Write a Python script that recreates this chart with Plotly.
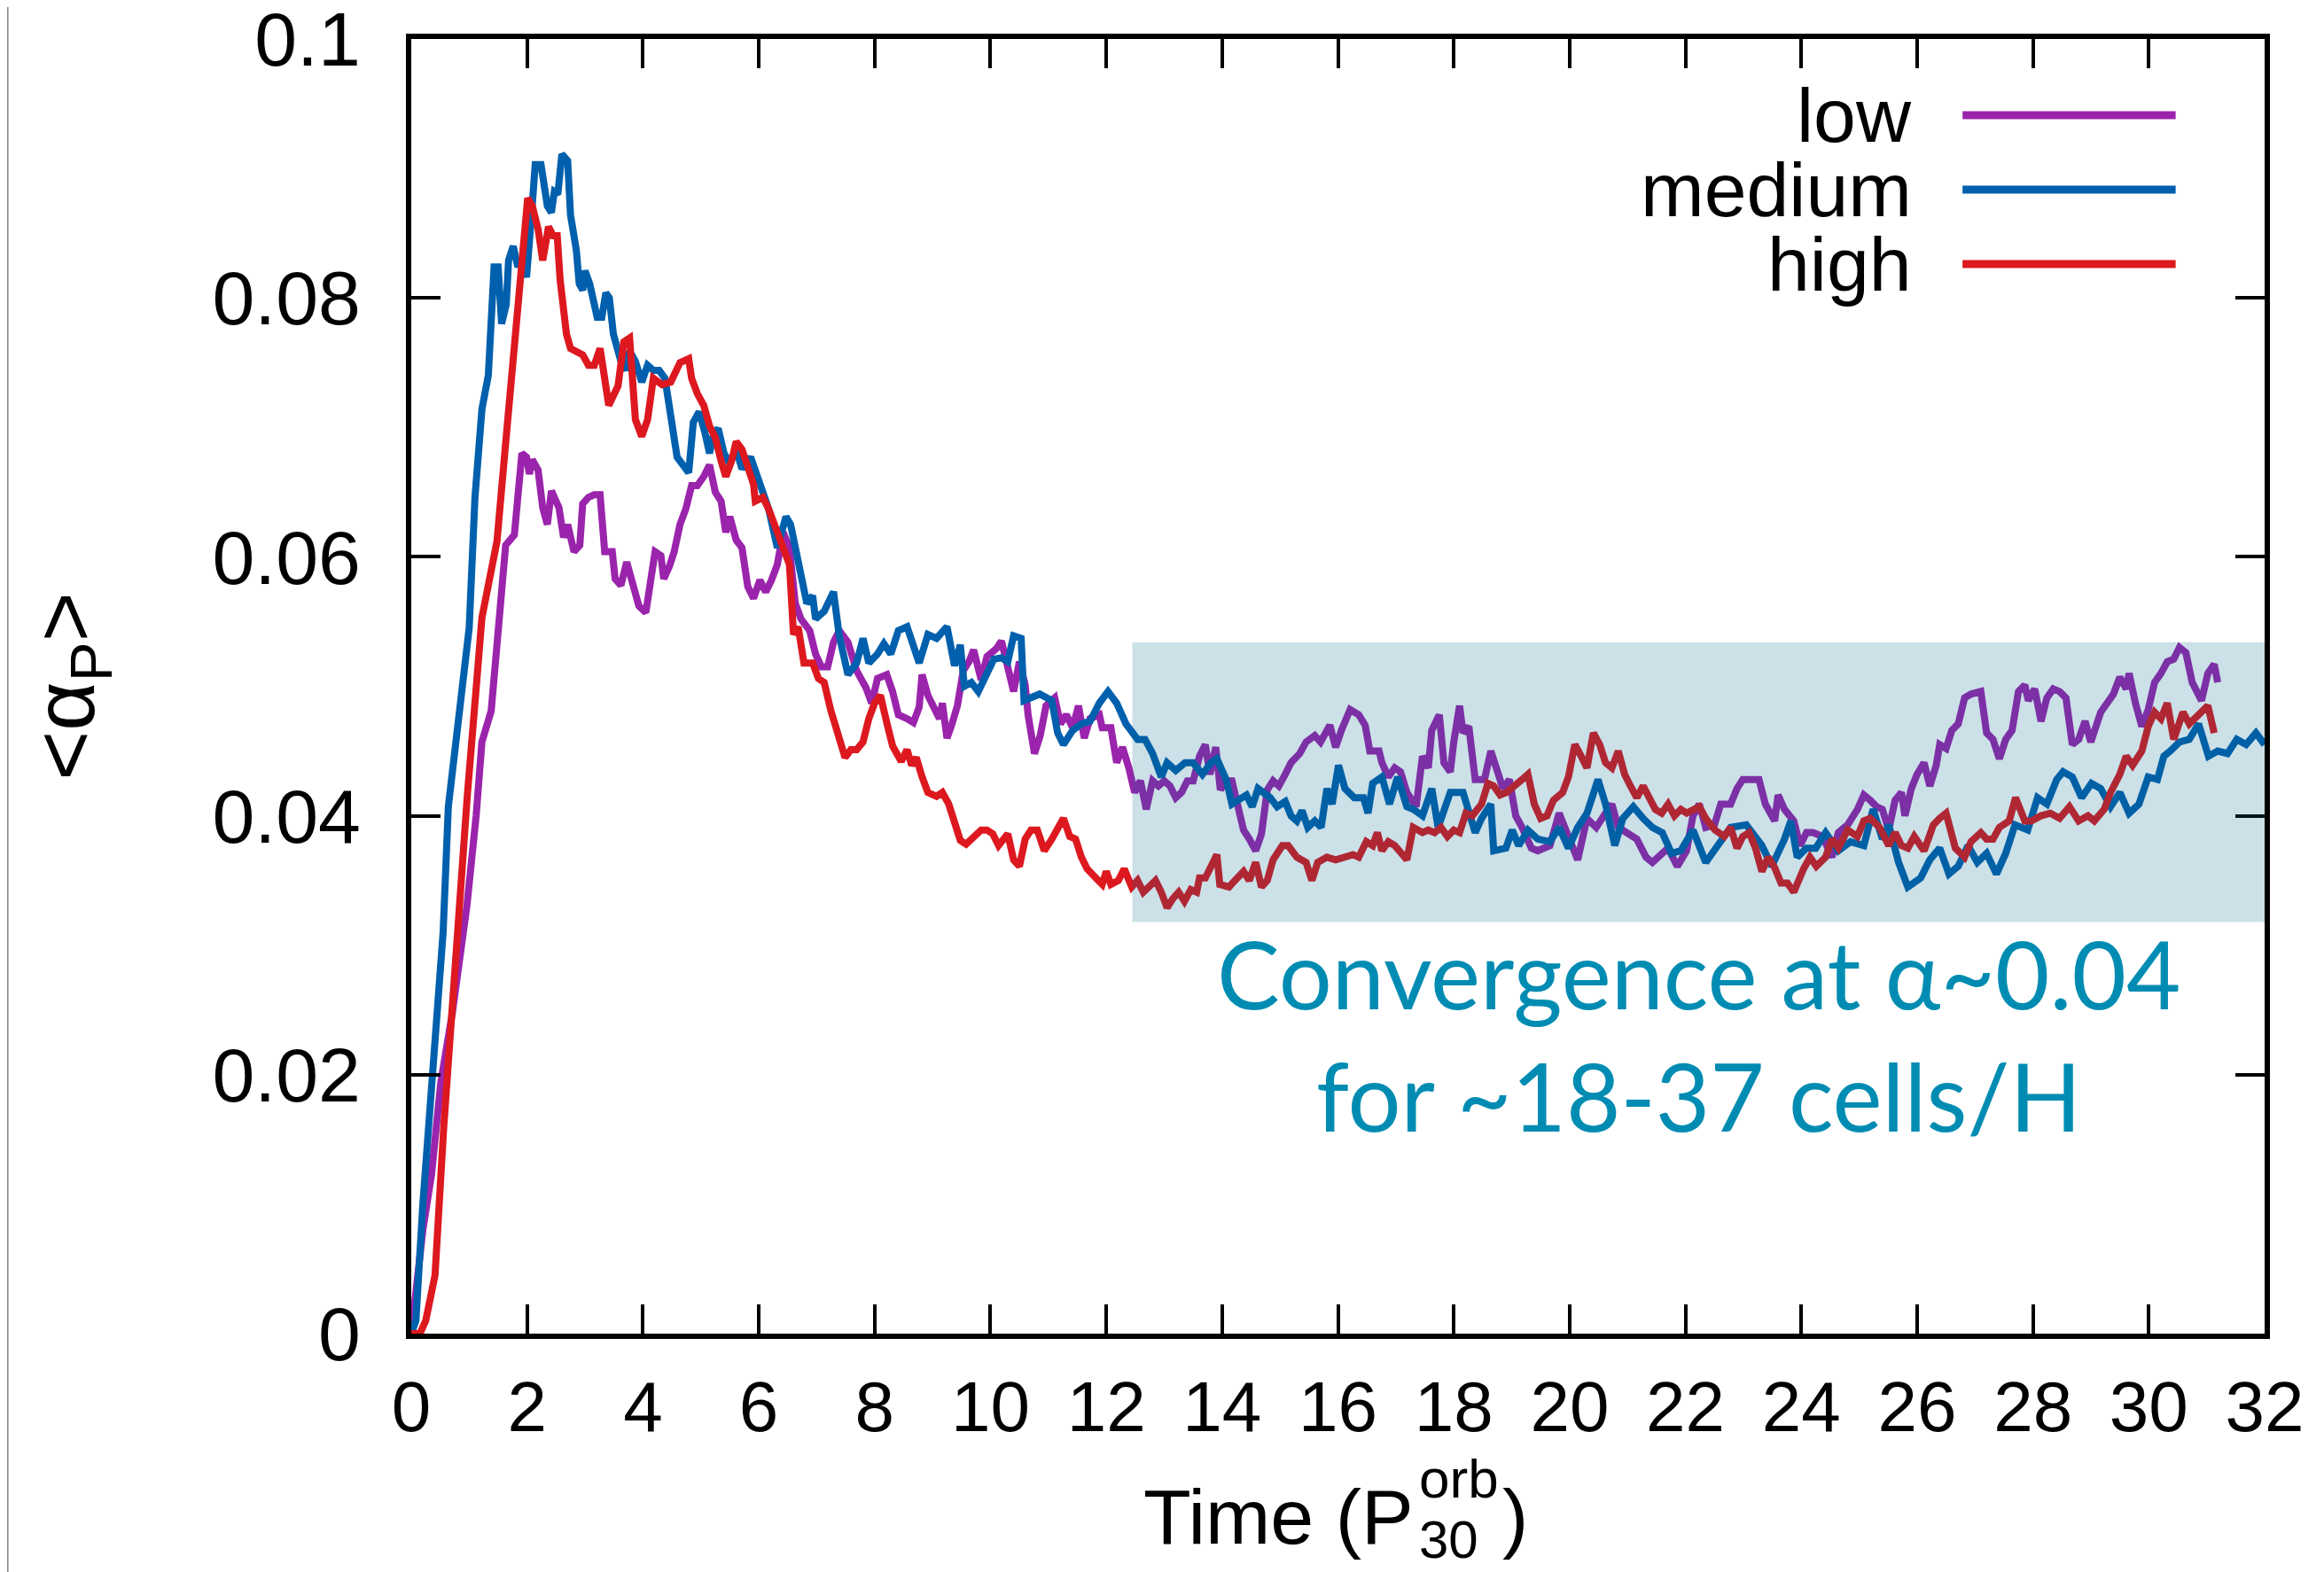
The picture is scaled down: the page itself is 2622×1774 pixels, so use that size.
import plotly.graph_objects as go

# values
t_low = [0.00, 0.10, 0.20, 0.35, 0.51, 0.71, 0.85, 0.96, 1.12, 1.22, 1.38, 1.53, 1.63, 1.78, 1.83, 1.91, 1.99,
         2.04, 2.09, 2.19, 2.27, 2.35, 2.42, 2.55, 2.63, 2.70, 2.81, 2.91, 2.96, 3.06, 3.16, 3.26, 3.34, 3.47,
         3.52, 3.62, 3.72, 3.82, 3.93, 4.05, 4.13, 4.21, 4.31, 4.36, 4.46, 4.54, 4.64, 4.74, 4.84, 4.94, 5.05,
         5.15, 5.25, 5.35, 5.43, 5.50, 5.61, 5.71, 5.81, 5.91, 6.02, 6.12, 6.22, 6.32, 6.42, 6.53, 6.63, 6.73,
         6.88, 6.98, 7.08, 7.19, 7.29, 7.39, 7.54, 7.69, 7.85, 7.95, 8.05, 8.21, 8.31, 8.41, 8.56, 8.67, 8.77,
         8.82, 8.92, 9.02, 9.12, 9.17, 9.25, 9.33, 9.43, 9.53, 9.63, 9.71, 9.79, 9.84, 9.94, 10.10, 10.19,
         10.30, 10.40, 10.50, 10.60, 10.65, 10.76, 10.86, 10.96, 11.11, 11.21, 11.31, 11.42, 11.52, 11.62,
         11.72, 11.88, 11.93, 12.08, 12.18, 12.28, 12.39, 12.49, 12.59, 12.69, 12.80, 12.90, 13.00, 13.10,
         13.20, 13.30, 13.40, 13.50, 13.61, 13.71, 13.79, 13.89, 13.97, 14.07, 14.17, 14.27, 14.37, 14.47,
         14.58, 14.68, 14.78, 14.88, 14.98, 15.09, 15.19, 15.34, 15.45, 15.60, 15.70, 15.86, 15.96, 16.06,
         16.21, 16.36, 16.47, 16.55, 16.71, 16.76, 16.87, 16.98, 17.08, 17.19, 17.35, 17.46, 17.56, 17.62,
         17.75, 17.83, 17.94, 18.00, 18.10, 18.16, 18.26, 18.37, 18.53, 18.64, 18.75, 18.85, 18.96, 19.07,
         19.18, 19.34, 19.45, 19.66, 19.82, 19.98, 20.14, 20.30, 20.46, 20.62, 20.73, 20.84, 21.00, 21.16,
         21.32, 21.43, 21.60, 21.70, 21.86, 22.02, 22.13, 22.24, 22.35, 22.50, 22.61, 22.78, 22.89, 22.99,
         23.10, 23.27, 23.38, 23.54, 23.60, 23.71, 23.87, 23.98, 24.09, 24.20, 24.37, 24.53, 24.64, 24.80,
         24.97, 25.08, 25.19, 25.30, 25.40, 25.51, 25.62, 25.73, 25.79, 25.90, 26.00, 26.12, 26.22, 26.33,
         26.39, 26.50, 26.60, 26.71, 26.82, 26.93, 27.10, 27.20, 27.31, 27.42, 27.53, 27.64, 27.75, 27.86,
         27.92, 28.03, 28.14, 28.24, 28.35, 28.46, 28.57, 28.68, 28.79, 28.90, 29.00, 29.17, 29.39, 29.50,
         29.61, 29.66, 29.77, 29.88, 29.99, 30.10, 30.21, 30.32, 30.43, 30.53, 30.64, 30.75, 30.91, 31.02,
         31.13, 31.19]
alpha_low = [0.0000, 0.0040, 0.0080, 0.0123, 0.0194, 0.0248, 0.0290, 0.0330, 0.0400, 0.0457, 0.0481, 0.0553,
             0.0609, 0.0617, 0.0646, 0.0680, 0.0677, 0.0664, 0.0675, 0.0667, 0.0638, 0.0625, 0.0651, 0.0638,
             0.0615, 0.0625, 0.0604, 0.0609, 0.0641, 0.0646, 0.0648, 0.0648, 0.0604, 0.0604, 0.0583, 0.0578,
             0.0596, 0.0578, 0.0562, 0.0557, 0.0578, 0.0604, 0.0601, 0.0583, 0.0593, 0.0604, 0.0625, 0.0637,
             0.0655, 0.0655, 0.0662, 0.0671, 0.0650, 0.0643, 0.0619, 0.0631, 0.0613, 0.0607, 0.0577, 0.0568,
             0.0582, 0.0573, 0.0582, 0.0594, 0.0619, 0.0607, 0.0564, 0.0552, 0.0543, 0.0525, 0.0515, 0.0515,
             0.0534, 0.0543, 0.0534, 0.0512, 0.0499, 0.0487, 0.0506, 0.0509, 0.0496, 0.0478, 0.0475, 0.0472,
             0.0484, 0.0509, 0.0493, 0.0483, 0.0475, 0.0487, 0.0460, 0.0470, 0.0485, 0.0512, 0.0519, 0.0528,
             0.0512, 0.0505, 0.0523, 0.0529, 0.0535, 0.0512, 0.0496, 0.0519, 0.0501, 0.0478, 0.0448, 0.0462,
             0.0485, 0.0491, 0.0471, 0.0478, 0.0468, 0.0485, 0.0460, 0.0475, 0.0478, 0.0468, 0.0468, 0.0441,
             0.0453, 0.0437, 0.0418, 0.0427, 0.0405, 0.0427, 0.0423, 0.0427, 0.0423, 0.0414, 0.0418, 0.0427,
             0.0427, 0.0446, 0.0455, 0.0432, 0.0453, 0.0420, 0.0427, 0.0427, 0.0407, 0.0389, 0.0382, 0.0373,
             0.0386, 0.0420, 0.0427, 0.0423, 0.0432, 0.0441, 0.0448, 0.0457, 0.0462, 0.0457, 0.0470, 0.0453,
             0.0466, 0.0482, 0.0478, 0.0470, 0.0450, 0.0450, 0.0441, 0.0430, 0.0437, 0.0434, 0.0418, 0.0407,
             0.0446, 0.0437, 0.0466, 0.0478, 0.0441, 0.0434, 0.0457, 0.0485, 0.0464, 0.0469, 0.0428, 0.0428,
             0.0450, 0.0434, 0.0421, 0.0428, 0.0400, 0.0391, 0.0375, 0.0373, 0.0377, 0.0402, 0.0384, 0.0366,
             0.0398, 0.0391, 0.0402, 0.0409, 0.0391, 0.0387, 0.0382, 0.0368, 0.0364, 0.0371, 0.0375, 0.0361,
             0.0373, 0.0400, 0.0409, 0.0391, 0.0393, 0.0409, 0.0409, 0.0421, 0.0428, 0.0428, 0.0428, 0.0409,
             0.0396, 0.0416, 0.0405, 0.0396, 0.0377, 0.0387, 0.0387, 0.0384, 0.0368, 0.0387, 0.0393, 0.0405,
             0.0416, 0.0412, 0.0407, 0.0405, 0.0389, 0.0412, 0.0418, 0.0400, 0.0421, 0.0432, 0.0441, 0.0423,
             0.0439, 0.0455, 0.0452, 0.0466, 0.0471, 0.0491, 0.0494, 0.0496, 0.0464, 0.0459, 0.0444, 0.0459,
             0.0466, 0.0496, 0.0501, 0.0489, 0.0498, 0.0473, 0.0491, 0.0498, 0.0496, 0.0491, 0.0455, 0.0459,
             0.0473, 0.0457, 0.0480, 0.0494, 0.0507, 0.0498, 0.0510, 0.0487, 0.0469, 0.0482, 0.0503, 0.0510,
             0.0519, 0.0521, 0.0530, 0.0526, 0.0503, 0.0489, 0.0510, 0.0517, 0.0503]

t_medium = [0.00, 0.08, 0.20, 0.35, 0.45, 0.55, 0.64, 0.80, 1.00, 1.10, 1.22, 1.33, 1.43, 1.50, 1.56, 1.64,
            1.68, 1.76, 1.84, 1.92, 1.99, 2.07, 2.14, 2.24, 2.35, 2.42, 2.47, 2.53, 2.60, 2.70, 2.75, 2.85,
            2.90, 2.96, 3.00, 3.08, 3.21, 3.29, 3.36, 3.42, 3.49, 3.62, 3.70, 3.77, 3.87, 3.98, 4.08, 4.18,
            4.28, 4.38, 4.49, 4.59, 4.69, 4.79, 4.87, 4.97, 5.07, 5.15, 5.22, 5.30, 5.40, 5.50, 5.61, 5.71,
            5.86, 6.02, 6.17, 6.32, 6.42, 6.47, 6.55, 6.63, 6.73, 6.83, 6.93, 6.98, 7.13, 7.29, 7.39, 7.54,
            7.69, 7.80, 7.90, 8.05, 8.16, 8.28, 8.41, 8.56, 8.77, 8.92, 9.07, 9.25, 9.38, 9.48, 9.55, 9.67,
            9.79, 9.94, 10.06, 10.19, 10.30, 10.40, 10.53, 10.58, 10.72, 10.85, 11.06, 11.16, 11.26, 11.42,
            11.57, 11.72, 11.88, 12.03, 12.18, 12.34, 12.54, 12.67, 12.80, 12.95, 13.05, 13.20, 13.36, 13.50,
            13.66, 13.81, 13.91, 14.07, 14.17, 14.32, 14.42, 14.52, 14.62, 14.83, 14.95, 15.09, 15.19, 15.29,
            15.38, 15.48, 15.60, 15.71, 15.81, 15.90, 16.01, 16.12, 16.28, 16.44, 16.52, 16.60, 16.76, 16.89,
            17.03, 17.19, 17.30, 17.46, 17.62, 17.73, 17.94, 18.16, 18.26, 18.37, 18.48, 18.64, 18.69, 18.90,
            19.01, 19.12, 19.28, 19.45, 19.66, 19.82, 19.98, 20.14, 20.30, 20.49, 20.62, 20.78, 20.92, 21.10,
            21.27, 21.43, 21.60, 21.76, 21.92, 22.13, 22.35, 22.57, 22.78, 23.05, 23.32, 23.49, 23.60, 23.71,
            23.82, 23.93, 24.09, 24.25, 24.42, 24.64, 24.85, 25.08, 25.24, 25.40, 25.51, 25.68, 25.84, 26.06,
            26.22, 26.39, 26.55, 26.71, 26.88, 27.04, 27.20, 27.37, 27.53, 27.69, 27.91, 28.08, 28.24, 28.41,
            28.52, 28.68, 28.84, 29.01, 29.17, 29.34, 29.50, 29.66, 29.83, 29.99, 30.15, 30.26, 30.37, 30.53,
            30.70, 30.86, 31.03, 31.19, 31.36, 31.52, 31.68, 31.85, 32.00]
alpha_medium = [0.0000, 0.0010, 0.0100, 0.0194, 0.0248, 0.0310, 0.0407, 0.0474, 0.0545, 0.0646, 0.0714, 0.0740,
                0.0824, 0.0824, 0.0780, 0.0795, 0.0829, 0.0840, 0.0824, 0.0830, 0.0816, 0.0860, 0.0903, 0.0903,
                0.0871, 0.0866, 0.0882, 0.0880, 0.0911, 0.0906, 0.0864, 0.0837, 0.0811, 0.0806, 0.0821, 0.0811,
                0.0785, 0.0785, 0.0804, 0.0800, 0.0772, 0.0751, 0.0744, 0.0759, 0.0751, 0.0735, 0.0748, 0.0744,
                0.0744, 0.0738, 0.0710, 0.0677, 0.0671, 0.0665, 0.0704, 0.0712, 0.0696, 0.0680, 0.0695, 0.0699,
                0.0680, 0.0672, 0.0683, 0.0668, 0.0677, 0.0656, 0.0637, 0.0607, 0.0625, 0.0631, 0.0625, 0.0607,
                0.0582, 0.0564, 0.0570, 0.0552, 0.0558, 0.0573, 0.0539, 0.0509, 0.0518, 0.0537, 0.0518, 0.0525,
                0.0533, 0.0525, 0.0543, 0.0546, 0.0518, 0.0540, 0.0537, 0.0546, 0.0516, 0.0532, 0.0500, 0.0503,
                0.0496, 0.0510, 0.0521, 0.0522, 0.0519, 0.0539, 0.0537, 0.0489, 0.0492, 0.0494, 0.0489, 0.0464,
                0.0455, 0.0466, 0.0471, 0.0473, 0.0487, 0.0496, 0.0487, 0.0471, 0.0459, 0.0459, 0.0448, 0.0430,
                0.0441, 0.0435, 0.0441, 0.0441, 0.0432, 0.0441, 0.0444, 0.0428, 0.0409, 0.0414, 0.0416, 0.0407,
                0.0421, 0.0414, 0.0407, 0.0411, 0.0400, 0.0396, 0.0404, 0.0391, 0.0396, 0.0391, 0.0421, 0.0409,
                0.0439, 0.0421, 0.0414, 0.0414, 0.0402, 0.0425, 0.0430, 0.0409, 0.0430, 0.0407, 0.0405, 0.0400,
                0.0421, 0.0391, 0.0418, 0.0418, 0.0405, 0.0387, 0.0398, 0.0409, 0.0373, 0.0375, 0.0389, 0.0377,
                0.0389, 0.0382, 0.0380, 0.0391, 0.0375, 0.0391, 0.0402, 0.0428, 0.0409, 0.0377, 0.0398, 0.0407,
                0.0398, 0.0391, 0.0387, 0.0371, 0.0373, 0.0389, 0.0364, 0.0377, 0.0391, 0.0393, 0.0377, 0.0361,
                0.0371, 0.0382, 0.0396, 0.0368, 0.0375, 0.0375, 0.0387, 0.0373, 0.0380, 0.0377, 0.0405, 0.0382,
                0.0393, 0.0364, 0.0345, 0.0352, 0.0366, 0.0375, 0.0355, 0.0361, 0.0377, 0.0364, 0.0371, 0.0355,
                0.0371, 0.0393, 0.0389, 0.0414, 0.0409, 0.0428, 0.0434, 0.0430, 0.0414, 0.0425, 0.0421, 0.0407,
                0.0418, 0.0402, 0.0409, 0.0430, 0.0428, 0.0446, 0.0450, 0.0457, 0.0459, 0.0471, 0.0446, 0.0450,
                0.0448, 0.0459, 0.0455, 0.0464, 0.0455]

t_high = [0.00, 0.15, 0.25, 0.41, 0.56, 0.71, 0.87, 0.97, 1.07, 1.22, 1.33, 1.48, 1.63, 1.78, 1.94, 2.01, 2.09,
          2.19, 2.27, 2.37, 2.45, 2.52, 2.57, 2.68, 2.75, 2.85, 2.96, 3.06, 3.16, 3.26, 3.36, 3.41, 3.57, 3.67,
          3.77, 3.87, 3.98, 4.08, 4.18, 4.33, 4.48, 4.64, 4.79, 4.84, 4.94, 5.05, 5.15, 5.25, 5.35, 5.43, 5.53,
          5.61, 5.71, 5.81, 5.91, 5.94, 6.07, 6.17, 6.27, 6.37, 6.45, 6.53, 6.60, 6.68, 6.78, 6.93, 7.03, 7.13,
          7.24, 7.39, 7.49, 7.59, 7.69, 7.80, 7.90, 8.00, 8.10, 8.21, 8.31, 8.46, 8.56, 8.64, 8.72, 8.82, 8.92,
          9.07, 9.17, 9.28, 9.38, 9.48, 9.58, 9.74, 9.84, 9.94, 10.04, 10.14, 10.30, 10.40, 10.50, 10.60, 10.70,
          10.81, 10.93, 11.06, 11.16, 11.26, 11.37, 11.47, 11.57, 11.67, 11.82, 11.93, 12.00, 12.08, 12.21,
          12.31, 12.44, 12.54, 12.64, 12.74, 12.85, 12.95, 13.05, 13.15, 13.25, 13.35, 13.46, 13.56, 13.61,
          13.71, 13.81, 13.91, 13.96, 14.12, 14.22, 14.37, 14.47, 14.58, 14.68, 14.78, 14.88, 15.04, 15.14,
          15.29, 15.45, 15.55, 15.65, 15.81, 15.96, 16.11, 16.26, 16.36, 16.49, 16.60, 16.68, 16.76, 16.87,
          16.98, 17.08, 17.19, 17.30, 17.46, 17.56, 17.67, 17.78, 17.89, 18.00, 18.10, 18.21, 18.32, 18.48,
          18.59, 18.69, 18.80, 18.91, 19.07, 19.18, 19.28, 19.39, 19.50, 19.61, 19.72, 19.88, 19.98, 20.09,
          20.20, 20.30, 20.41, 20.52, 20.62, 20.73, 20.84, 20.95, 21.05, 21.16, 21.27, 21.38, 21.48, 21.59,
          21.70, 21.81, 21.92, 22.02, 22.13, 22.24, 22.35, 22.51, 22.67, 22.78, 22.89, 22.99, 23.10, 23.21,
          23.32, 23.43, 23.54, 23.65, 23.76, 23.87, 24.04, 24.15, 24.26, 24.42, 24.53, 24.64, 24.80, 24.97,
          25.08, 25.19, 25.35, 25.51, 25.62, 25.73, 25.84, 25.95, 26.12, 26.28, 26.39, 26.50, 26.66, 26.82,
          26.93, 27.10, 27.20, 27.31, 27.42, 27.59, 27.70, 27.86, 27.97, 28.14, 28.30, 28.46, 28.63, 28.79,
          28.95, 29.06, 29.23, 29.34, 29.50, 29.61, 29.72, 29.88, 29.99, 30.10, 30.21, 30.32, 30.43, 30.59,
          30.70, 30.86, 30.97, 31.02, 31.13]
alpha_high = [0.0000, 0.0000, 0.0010, 0.0045, 0.0159, 0.0260, 0.0352, 0.0417, 0.0471, 0.0553, 0.0578, 0.0612,
              0.0688, 0.0761, 0.0840, 0.0877, 0.0871, 0.0853, 0.0829, 0.0855, 0.0848, 0.0848, 0.0814, 0.0772,
              0.0761, 0.0759, 0.0756, 0.0748, 0.0748, 0.0761, 0.0727, 0.0717, 0.0732, 0.0766, 0.0769, 0.0706,
              0.0693, 0.0706, 0.0738, 0.0733, 0.0735, 0.0750, 0.0753, 0.0738, 0.0726, 0.0717, 0.0701, 0.0692,
              0.0674, 0.0662, 0.0674, 0.0689, 0.0683, 0.0668, 0.0656, 0.0643, 0.0646, 0.0637, 0.0625, 0.0613,
              0.0600, 0.0594, 0.0540, 0.0546, 0.0518, 0.0518, 0.0506, 0.0503, 0.0482, 0.0460, 0.0445, 0.0451,
              0.0451, 0.0457, 0.0475, 0.0487, 0.0493, 0.0472, 0.0454, 0.0442, 0.0451, 0.0439, 0.0445, 0.0430,
              0.0418, 0.0415, 0.0418, 0.0409, 0.0394, 0.0381, 0.0378, 0.0384, 0.0389, 0.0389, 0.0386, 0.0377,
              0.0386, 0.0366, 0.0361, 0.0382, 0.0389, 0.0389, 0.0373, 0.0382, 0.0391, 0.0398, 0.0384, 0.0382,
              0.0368, 0.0359, 0.0352, 0.0347, 0.0357, 0.0347, 0.0350, 0.0359, 0.0345, 0.0350, 0.0341, 0.0345,
              0.0350, 0.0341, 0.0329, 0.0336, 0.0341, 0.0334, 0.0343, 0.0341, 0.0352, 0.0352, 0.0361, 0.0370,
              0.0347, 0.0345, 0.0350, 0.0357, 0.0350, 0.0364, 0.0345, 0.0350, 0.0366, 0.0377, 0.0377, 0.0368,
              0.0364, 0.0350, 0.0364, 0.0368, 0.0366, 0.0368, 0.0370, 0.0368, 0.0380, 0.0377, 0.0387, 0.0373,
              0.0380, 0.0377, 0.0371, 0.0366, 0.0391, 0.0387, 0.0389, 0.0387, 0.0391, 0.0384, 0.0389, 0.0387,
              0.0402, 0.0400, 0.0409, 0.0425, 0.0423, 0.0416, 0.0418, 0.0425, 0.0428, 0.0432, 0.0409, 0.0398,
              0.0400, 0.0412, 0.0418, 0.0430, 0.0455, 0.0446, 0.0437, 0.0464, 0.0455, 0.0441, 0.0437, 0.0450,
              0.0432, 0.0423, 0.0414, 0.0423, 0.0414, 0.0405, 0.0402, 0.0409, 0.0400, 0.0405, 0.0402, 0.0405,
              0.0407, 0.0398, 0.0389, 0.0384, 0.0391, 0.0375, 0.0384, 0.0387, 0.0375, 0.0357, 0.0368, 0.0360,
              0.0348, 0.0348, 0.0341, 0.0359, 0.0368, 0.0361, 0.0368, 0.0382, 0.0375, 0.0389, 0.0384, 0.0396,
              0.0398, 0.0391, 0.0377, 0.0387, 0.0377, 0.0375, 0.0384, 0.0373, 0.0393, 0.0398, 0.0402, 0.0375,
              0.0368, 0.0380, 0.0387, 0.0382, 0.0382, 0.0391, 0.0396, 0.0414, 0.0396, 0.0396, 0.0400, 0.0402,
              0.0398, 0.0407, 0.0396, 0.0400, 0.0396, 0.0405, 0.0418, 0.0432, 0.0446, 0.0439, 0.0450, 0.0469,
              0.0480, 0.0475, 0.0487, 0.0459, 0.0480, 0.0471, 0.0478, 0.0482, 0.0485, 0.0464]

series_names = ["low", "medium", "high"]
series_colors = ["#9b24ac", "#0060ad", "#dd181f"]

x_ticks = list(range(0, 33, 2))
y_ticks = [0, 0.02, 0.04, 0.06, 0.08, 0.1]
y_tick_text = ["0", "0.02", "0.04", "0.06", "0.08", "0.1"]

# convergence band
band_t = [12.45, 32]
band_alpha = [0.0318, 0.0534]

FONT = "Liberation Sans, Arial, Helvetica, sans-serif"

fig = go.Figure()
for name, color, t, a in zip(series_names, series_colors,
                             [t_low, t_medium, t_high],
                             [alpha_low, alpha_medium, alpha_high]):
    fig.add_trace(go.Scatter(x=t, y=a, mode="lines", name=name,
                             line=dict(color=color, width=8)))

fig.add_shape(type="rect", xref="x", yref="y",
              x0=band_t[0], x1=band_t[1], y0=band_alpha[0], y1=band_alpha[1],
              fillcolor="rgb(0,100,140)", opacity=0.2, line_width=0, layer="above")

fig.add_annotation(text="Convergence at α~0.04<br>for ~18-37 cells/H",
                   xref="paper", yref="paper", x=0.6947, y=0.2313,
                   xanchor="center", yanchor="middle", showarrow=False, align="center",
                   font=dict(family="Lato, Open Sans, sans-serif", size=106, color="#008cb2"))

# legend drawn by hand: label on the left, line sample on the right
leg_y = [0.9412, 0.8837, 0.8262]
for name, color, yy in zip(series_names, series_colors, leg_y):
    fig.add_annotation(text=name, xref="paper", yref="paper", x=0.8108, y=yy,
                       xanchor="right", yanchor="middle", showarrow=False,
                       font=dict(family=FONT, size=86, color="black"))
    fig.add_shape(type="line", xref="paper", yref="paper", x0=0.837, x1=0.952, y0=yy, y1=yy,
                  line=dict(color=color, width=9))

# axis titles
fig.add_annotation(text="&lt;α<sub>P</sub>&gt;", xref="paper", yref="paper", x=-0.184, y=0.5,
                   xanchor="center", yanchor="middle", textangle=-90, showarrow=False,
                   font=dict(family=FONT, size=96, color="black"))
fig.add_annotation(text="Time (P", xref="paper", yref="paper", x=0.542, y=-0.141,
                   xanchor="right", yanchor="middle", showarrow=False,
                   font=dict(family=FONT, size=88, color="black"))
fig.add_annotation(text="orb", xref="paper", yref="paper", x=0.543, y=-0.1122,
                   xanchor="left", yanchor="middle", showarrow=False,
                   font=dict(family=FONT, size=62, color="black"))
fig.add_annotation(text="30", xref="paper", yref="paper", x=0.543, y=-0.1588,
                   xanchor="left", yanchor="middle", showarrow=False,
                   font=dict(family=FONT, size=60, color="black"))
fig.add_annotation(text=")", xref="paper", yref="paper", x=0.5876, y=-0.141,
                   xanchor="left", yanchor="middle", showarrow=False,
                   font=dict(family=FONT, size=88, color="black"))

# thin grey edge on the far left of the image
fig.add_shape(type="line", xref="paper", yref="paper", x0=-0.2178, x1=-0.2178, y0=-0.19, y1=1.03,
              line=dict(color="#888888", width=2))

axis_style = dict(showline=True, linewidth=6, linecolor="black", mirror="ticks",
                  ticks="inside", ticklen=33, tickwidth=4, tickcolor="black",
                  showgrid=False, zeroline=False, ticklabeloverflow="allow", automargin=False)

fig.update_xaxes(range=[0, 32], tickvals=x_ticks, ticklabelstandoff=8,
                 tickfont=dict(family=FONT, size=80, color="black"), **axis_style)
fig.update_yaxes(range=[0, 0.1], tickvals=y_ticks, ticktext=y_tick_text, ticklabelstandoff=34,
                 tickfont=dict(family=FONT, size=86, color="black"), **axis_style)

fig.update_layout(
    width=2622, height=1774,
    margin=dict(l=456, r=75, t=36, b=277),
    plot_bgcolor="white", paper_bgcolor="white",
    showlegend=False,
)

fig.write_html("out.html")
